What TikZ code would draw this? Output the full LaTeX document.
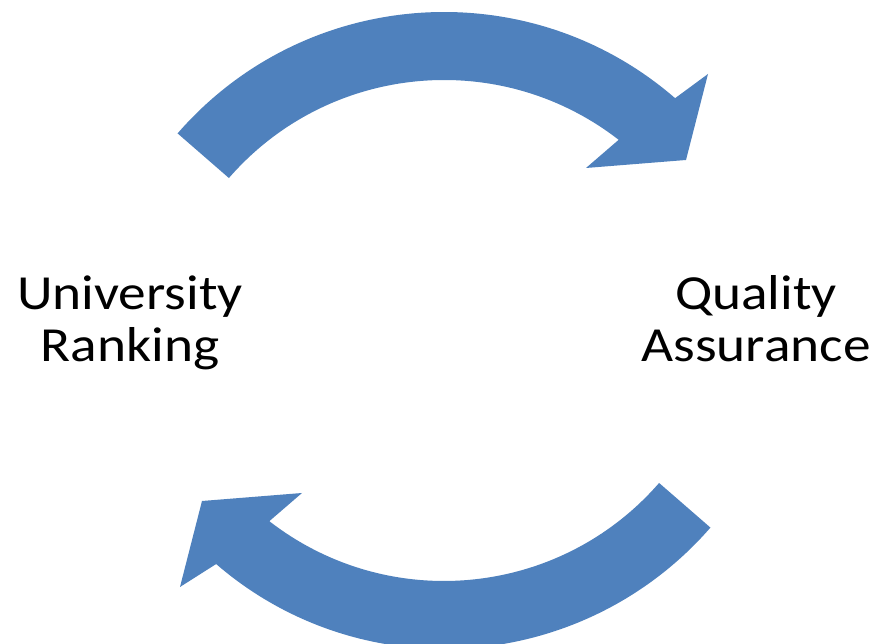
\documentclass[tikz,border=0pt]{standalone}
\usepackage{fontspec}
\setmainfont{Carlito}
\definecolor{arrowblue}{HTML}{4F81BD}
\tikzset{
  blockarrow/.style={fill=arrowblue, draw=none},
  label/.style={align=center, inner sep=0pt, font=\fontsize{49}{52}\selectfont, xscale=1.13, text=black, anchor=base}
}
\begin{document}
\begin{tikzpicture}[x=1pt,y=1pt]
\useasboundingbox (0,0) rectangle (879,644);
\fill[white] (0,0) rectangle (879,644);
\coordinate (c1) at (444,279);
\coordinate (c2) at (444,348);
% top arrow
\fill[blockarrow] ([shift={(139:353)}]c1) arc[start angle=139, end angle=49.1, radius=353]
  -- (708,570) -- (686,484) -- (586,476)
  -- ([shift={(52.2:285)}]c1) arc[start angle=52.2, end angle=139, radius=285] -- cycle;
% bottom arrow
\fill[blockarrow] ([shift={(-41:353)}]c2) arc[start angle=-41, end angle=-90, radius=353]
  arc[start angle=-90, end angle=-130.9, radius=348]
  -- (180,57) -- (202,143) -- (302,151)
  -- ([shift={(-127.8:285)}]c2) arc[start angle=-127.8, end angle=-41, radius=285] -- cycle;
\node[label] (ur) at (130,282) {University\\Ranking};
\node[label] (qa) at (756,282) {Quality\\Assurance};
\end{tikzpicture}
\end{document}
